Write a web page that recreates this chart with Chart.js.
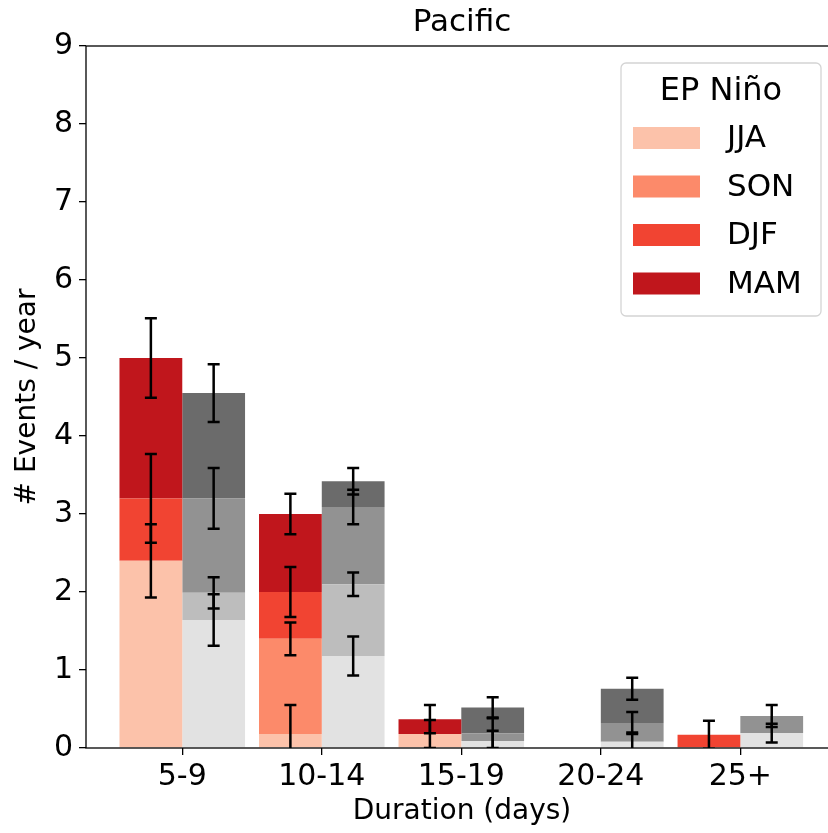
<!DOCTYPE html>
<html>
<head>
<meta charset="utf-8">
<script src="https://cdn.jsdelivr.net/npm/chart.js@4/dist/chart.umd.min.js"></script>
<style>
  html, body { margin: 0; padding: 0; background: #fff; overflow: hidden; }
  #wrap { width: 840px; height: 833px; }
</style>
</head>
<body>
<div id="wrap"><canvas id="chart" width="840" height="833"></canvas></div>
<script>
const categories = ['5-9', '10-14', '15-19', '20-24', '25+'];
const seasons = ['JJA', 'SON', 'DJF', 'MAM'];
const yTicks = [0, 1, 2, 3, 4, 5, 6, 7, 8, 9];

// EP Niño events / year, one array per season (stacked)
const epJJA = [2.40, 0.18, 0.18, 0, 0];
const epSON = [0, 1.22, 0, 0, 0];
const epDJF = [0.80, 0.60, 0, 0, 0.17];
const epMAM = [1.80, 1.00, 0.19, 0, 0];

// error half-widths, drawn at the top of each segment
const epErrJJA = [0.47, 0.37, 0.18, 0, 0];
const epErrSON = [0, 0.21, 0, 0, 0];
const epErrDJF = [0.57, 0.32, 0, 0, 0.18];
const epErrMAM = [0.51, 0.26, 0.18, 0, 0];

// grey comparison stack
const refJJA = [1.64, 1.18, 0.09, 0.08, 0.19];
const refSON = [0.35, 0.92, 0, 0, 0];
const refDJF = [1.21, 0.99, 0.10, 0.24, 0.22];
const refMAM = [1.35, 0.33, 0.33, 0.44, 0];

const refErrJJA = [0.33, 0.25, 0.13, 0.12, 0.12];
const refErrSON = [0.20, 0.15, 0, 0, 0];
const refErrDJF = [0.39, 0.22, 0.19, 0.14, 0.14];
const refErrMAM = [0.37, 0.17, 0.13, 0.14, 0];

const redColors = ['#fcc2aa', '#fc8a6a', '#f14432', '#c0161c'];
const greyColors = ['#e2e2e2', '#bdbdbd', '#929292', '#6b6b6b'];

Chart.defaults.font.family = 'DejaVu Sans';
Chart.defaults.color = '#000';

const toPoints = vals => vals.map((v, i) => ({ x: i, y: v }));

function makeSet(label, stack, values, errors, color) {
    return {
        label: label,
        stack: stack,
        data: toPoints(values),
        errors: errors,
        backgroundColor: color,
        borderWidth: 0,
        barPercentage: 1,
        categoryPercentage: 0.9
    };
}

const datasets = [
    makeSet('JJA', 'ep', epJJA, epErrJJA, redColors[0]),
    makeSet('SON', 'ep', epSON, epErrSON, redColors[1]),
    makeSet('DJF', 'ep', epDJF, epErrDJF, redColors[2]),
    makeSet('MAM', 'ep', epMAM, epErrMAM, redColors[3]),
    makeSet('JJA ref', 'ref', refJJA, refErrJJA, greyColors[0]),
    makeSet('SON ref', 'ref', refSON, refErrSON, greyColors[1]),
    makeSet('DJF ref', 'ref', refDJF, refErrDJF, greyColors[2]),
    makeSet('MAM ref', 'ref', refMAM, refErrMAM, greyColors[3])
];

// error bars at the cumulative top of every segment
const errorBars = {
    id: 'errorBars',
    afterDatasetsDraw(chart) {
        const { ctx, chartArea, scales: { y } } = chart;
        const running = {};
        ctx.save();
        ctx.beginPath();
        ctx.rect(chartArea.left, chartArea.top, chartArea.width, chartArea.height);
        ctx.clip();
        ctx.strokeStyle = '#000';
        ctx.lineWidth = 2.5;
        chart.data.datasets.forEach((ds, i) => {
            const meta = chart.getDatasetMeta(i);
            if (!running[ds.stack]) running[ds.stack] = ds.data.map(() => 0);
            const base = running[ds.stack];
            ds.data.forEach((pt, j) => {
                base[j] += pt.y;
                const err = ds.errors[j];
                if (!pt.y || !err) return;
                const x = meta.data[j].x;
                const yHi = y.getPixelForValue(base[j] + err);
                const yLo = y.getPixelForValue(base[j] - err);
                ctx.beginPath();
                ctx.moveTo(x, yHi); ctx.lineTo(x, yLo);
                ctx.moveTo(x - 6, yHi); ctx.lineTo(x + 6, yHi);
                ctx.moveTo(x - 6, yLo); ctx.lineTo(x + 6, yLo);
                ctx.stroke();
            });
        });
        ctx.restore();
    }
};

// axes frame + title centred on the plot area
const frame = {
    id: 'frame',
    afterDraw(chart) {
        const { ctx, chartArea: a } = chart;
        ctx.save();
        ctx.strokeStyle = '#000';
        ctx.lineWidth = 1.3;
        ctx.strokeRect(a.left, a.top, a.width, a.height);
        ctx.fillStyle = '#000';
        ctx.font = '31px "DejaVu Sans"';
        ctx.textAlign = 'center';
        ctx.textBaseline = 'middle';
        ctx.fillText('Pacific', (a.left + a.right) / 2, 23);
        ctx.restore();
    }
};

// matplotlib-style legend box, EP Niño stack only
const legendBox = {
    id: 'legendBox',
    afterDraw(chart) {
        const { ctx, chartArea: a } = chart;
        const items = chart.data.datasets.filter(ds => ds.stack === 'ep');
        const w = 200, h = 253;
        const left = a.right - 17 - w;
        const top = a.top + 17;
        ctx.save();
        ctx.beginPath();
        ctx.roundRect(left, top, w, h, 5);
        ctx.fillStyle = 'rgba(255,255,255,0.8)';
        ctx.fill();
        ctx.strokeStyle = '#d4d4d4';
        ctx.lineWidth = 1.3;
        ctx.stroke();

        ctx.fillStyle = '#000';
        ctx.font = '32px "DejaVu Sans"';
        ctx.textAlign = 'center';
        ctx.textBaseline = 'middle';
        ctx.fillText('EP Niño', left + w / 2, top + 29);

        ctx.font = '31px "DejaVu Sans"';
        ctx.textAlign = 'left';
        items.forEach((ds, k) => {
            const py = top + 64 + k * 48.5;
            ctx.fillStyle = ds.backgroundColor;
            ctx.fillRect(left + 12, py, 67, 22);
            ctx.fillStyle = '#000';
            ctx.fillText(seasons[k], left + 106, py + 12);
        });
        ctx.restore();
    }
};

new Chart(document.getElementById('chart'), {
    type: 'bar',
    data: { datasets: datasets },
    options: {
        responsive: false,
        animation: false,
        devicePixelRatio: 1,
        layout: { padding: { top: 46, right: 2, left: 0, bottom: 0 } },
        plugins: {
            legend: { display: false },
            tooltip: { enabled: false },
            title: { display: false }
        },
        scales: {
            x: {
                type: 'linear',
                offset: false,
                min: -0.69,
                max: 4.7,
                afterBuildTicks: s => { s.ticks = categories.map((_, i) => ({ value: i })); },
                afterFit: s => { s.height = 85; },
                border: { display: false },
                grid: { offset: false, drawOnChartArea: false, drawTicks: true, tickLength: 7, color: '#000', lineWidth: 1.3 },
                ticks: {
                    font: { size: 30 },
                    color: '#000',
                    padding: 4,
                    maxRotation: 0,
                    autoSkip: false,
                    callback: v => categories[v]
                },
                title: {
                    display: true,
                    text: 'Duration (days)',
                    font: { size: 28 },
                    color: '#000',
                    padding: { top: 0, bottom: 4 }
                }
            },
            y: {
                stacked: true,
                min: 0,
                max: 9,
                afterBuildTicks: s => { s.ticks = yTicks.map(v => ({ value: v })); },
                afterFit: s => { s.width = 86; },
                border: { display: false },
                grid: { drawOnChartArea: false, drawTicks: true, tickLength: 7, color: '#000', lineWidth: 1.3 },
                ticks: { font: { size: 30 }, color: '#000', padding: 6 },
                title: {
                    display: true,
                    text: '# Events / year',
                    font: { size: 28 },
                    color: '#000',
                    padding: { top: 11, bottom: 0 }
                }
            }
        }
    },
    plugins: [errorBars, frame, legendBox]
});
</script>
</body>
</html>
